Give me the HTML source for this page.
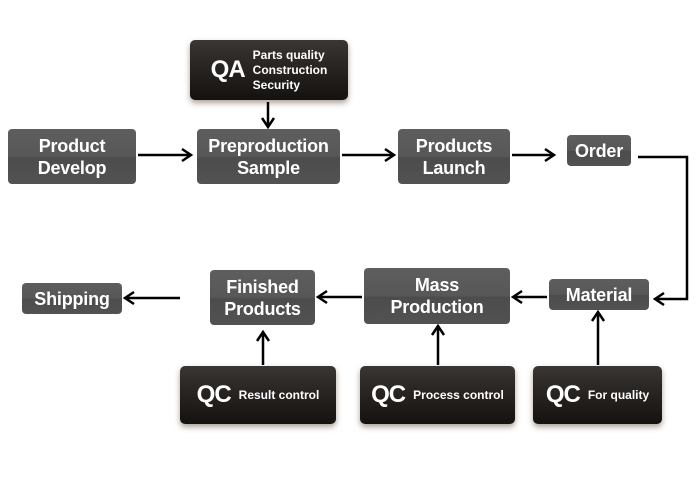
<!DOCTYPE html>
<html><head><meta charset="utf-8"><style>
body{margin:0;width:698px;height:480px;background:#fff;position:relative;overflow:hidden;font-family:"Liberation Sans",sans-serif}
.b{position:absolute;background:linear-gradient(#5e5e5e 0%,#575757 50%,#4c4c4c 52%,#525252 100%);border-radius:4px;color:#fff;font-weight:bold;font-size:18px;line-height:22px;display:flex;align-items:center;justify-content:center;text-align:center;letter-spacing:-0.2px}
.q{position:absolute;background:linear-gradient(#3a3634,#2a2624 40%,#141210);border-radius:5px;color:#fff;display:flex;align-items:center;justify-content:center;box-shadow:0 3px 6px rgba(90,70,50,0.5);font-weight:bold}
.q .big{font-size:24px;margin-right:8px;letter-spacing:-1px}
.q .sm{font-size:12px}
svg{position:absolute;left:0;top:0}
</style></head><body>
<div class="q" style="left:190px;top:40px;width:158px;height:60px"><span class="big">QA</span><span class="sm" style="line-height:15px;text-align:left">Parts quality<br>Construction<br>Security</span></div>
<div class="b" style="left:8px;top:129px;width:128px;height:55px">Product<br>Develop</div>
<div class="b" style="left:197px;top:129px;width:143px;height:55px">Preproduction<br>Sample</div>
<div class="b" style="left:398px;top:129px;width:112px;height:55px">Products<br>Launch</div>
<div class="b" style="left:567px;top:135px;width:64px;height:31px">Order</div>
<div class="b" style="left:549px;top:279px;width:100px;height:31px">Material</div>
<div class="b" style="left:364px;top:268px;width:146px;height:56px">Mass<br>Production</div>
<div class="b" style="left:210px;top:270px;width:105px;height:55px">Finished<br>Products</div>
<div class="b" style="left:22px;top:283px;width:100px;height:31px">Shipping</div>
<div class="q" style="left:180px;top:366px;width:156px;height:58px"><span class="big">QC</span><span class="sm">Result control</span></div>
<div class="q" style="left:360px;top:366px;width:155px;height:58px"><span class="big">QC</span><span class="sm">Process control</span></div>
<div class="q" style="left:533px;top:366px;width:129px;height:58px"><span class="big">QC</span><span class="sm">For quality</span></div>
<svg width="698" height="480" fill="none" stroke="#000" stroke-width="2.5">
<path d="M138 155H190M182 149l9 6-9 6"/>
<path d="M342 155H393M385 149l9 6-9 6"/>
<path d="M512 155H553M545 149l9 6-9 6"/>
<path d="M268 102V126M262 118l6 9 6-9"/>
<path d="M638 157H687V299H656M664 293l-9 6 9 6"/>
<path d="M547 297H514M522 291l-9 6 9 6"/>
<path d="M362 297H319M327 291l-9 6 9 6"/>
<path d="M180 298H126M134 292l-9 6 9 6"/>
<path d="M263 365V333M257 341l6-9 6 9"/>
<path d="M438 365V327M432 335l6-9 6 9"/>
<path d="M598 365V313M592 321l6-9 6 9"/>
</svg>
</body></html>
